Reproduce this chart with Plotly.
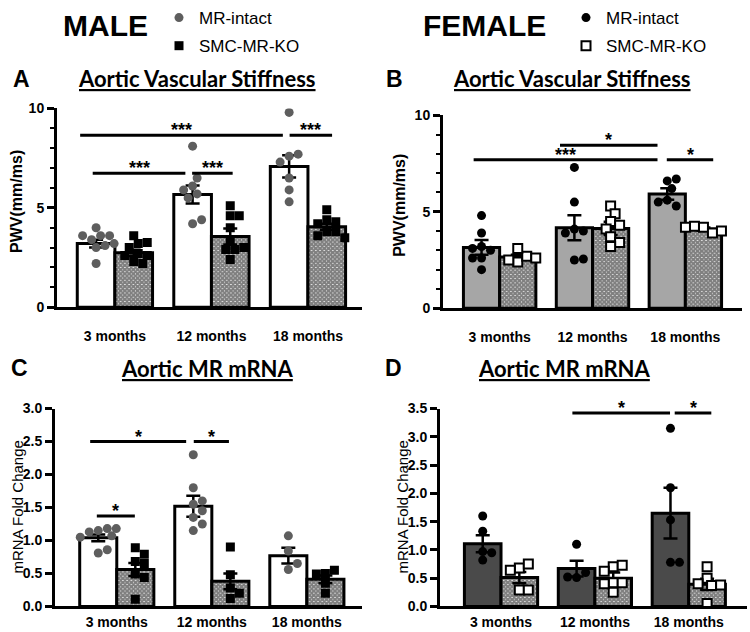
import numpy as np
import plotly.graph_objects as go

W, H = 750, 632
FONT = "Liberation Sans, Arial, sans-serif"
TITLE_FONT = "Lato, Calibri, sans-serif"

groups = ["3 months", "12 months", "18 months"]

# A - male aortic PWV (mm/ms)
a_intact_mean = [3.2, 5.67, 7.08]
a_intact_sem = [0.2, 0.45, 0.56]
a_ko_mean = [2.74, 3.56, 4.05]
a_ko_sem = [0.15, 0.4, 0.15]
a_intact_pts = [[4.0, 3.6, 3.4, 3.6, 3.6, 3.0, 3.1, 3.2, 2.2],
                [8.1, 6.1, 6.5, 5.7, 5.5, 4.2, 4.4, 5.9],
                [9.8, 7.6, 7.7, 7.3, 6.5, 5.9, 5.3]]
a_ko_pts = [[3.6, 3.2, 3.0, 3.25, 2.7, 2.6, 2.3, 2.2, 2.6],
            [5.1, 4.6, 4.6, 4.0, 3.3, 2.9, 2.9, 2.4, 3.0],
            [4.9, 4.4, 4.3, 4.2, 3.8, 3.8, 3.6, 3.5]]

# B - female aortic PWV (mm/ms)
b_intact_mean = [3.15, 4.17, 5.92]
b_intact_sem = [0.38, 0.65, 0.3]
b_ko_mean = [2.65, 4.13, 4.1]
b_ko_sem = [0.12, 0.35, 0.08]
b_intact_pts = [[4.8, 3.9, 3.2, 3.0, 3.1, 2.6, 2.6, 2.0],
                [7.3, 5.5, 4.1, 4.0, 3.9, 2.5, 2.55],
                [6.6, 6.7, 6.2, 5.6, 5.3, 5.5]]
b_ko_pts = [[2.4, 2.7, 3.1, 2.5, 2.6],
            [5.3, 4.9, 4.5, 4.3, 4.1, 3.7, 3.4, 3.2],
            [4.2, 3.9, 4.25, 4.0, 4.2]]

# C - male aortic MR mRNA (fold change)
c_intact_mean = [1.04, 1.52, 0.77]
c_intact_sem = [0.05, 0.16, 0.12]
c_ko_mean = [0.56, 0.38, 0.41]
c_ko_sem = [0.1, 0.12, 0.06]
c_intact_pts = [[1.15, 1.18, 1.13, 1.18, 1.07, 1.05, 0.81, 0.86],
                [2.3, 1.8, 1.55, 1.35, 1.45, 1.6, 1.25, 1.15],
                [1.07, 0.84, 0.56, 0.65]]
c_ko_pts = [[0.89, 0.79, 0.68, 0.65, 0.49, 0.44, 0.11],
            [0.9, 0.48, 0.28, 0.2, 0.12],
            [0.5, 0.55, 0.49, 0.2, 0.35]]

# D - female aortic MR mRNA (fold change)
d_intact_mean = [1.11, 0.67, 1.65]
d_intact_sem = [0.15, 0.14, 0.45]
d_ko_mean = [0.51, 0.5, 0.39]
d_ko_sem = [0.1, 0.1, 0.1]
d_intact_pts = [[1.6, 1.33, 0.97, 0.95, 0.82],
                [1.1, 0.51, 0.6, 0.52],
                [3.15, 2.1, 1.53, 0.78, 0.78]]
d_ko_pts = [[0.68, 0.75, 0.64, 0.29, 0.29],
            [0.7, 0.73, 0.62, 0.42, 0.42, 0.25, 0.4],
            [0.7, 0.5, 0.37, 0.4, 0.38, 0.05]]

# significance bars: (x0, x1, y, label) in data units
a_sig = [(-0.36, 1.74, 8.65, "***"), (1.81, 2.25, 8.65, "***"),
         (-0.23, 0.73, 6.74, "***"), (0.80, 1.22, 6.74, "***")]
b_sig = [(0.65, 1.70, 8.45, "*"), (-0.28, 1.70, 7.69, "***"), (1.80, 2.30, 7.69, "*")]
c_sig = [(-0.28, 0.73, 2.50, "*"), (0.81, 1.18, 2.50, "*"), (-0.21, 0.19, 1.37, "*")]
d_sig = [(0.76, 1.80, 3.42, "*"), (1.85, 2.24, 3.42, "*")]

BARGAP = 0.22
DOT = 9


def swarm(vals, ux, uy, d=DOT):
    # simple beeswarm: shift a point sideways until it no longer overlaps
    placed, out = [], []
    cands = [0] + [s * i for i in range(1, 20) for s in (1, -1)]
    for v in vals:
        y = v * uy
        for c in cands:
            x = c * d * 0.5
            if all((x - px_) ** 2 + (y - py_) ** 2 >= (d * 0.95) ** 2 for px_, py_ in placed):
                break
        placed.append((x, y))
        out.append(x / ux)
    return out


def paper_text(txt, x, y, font, **kw):
    return dict(xref="paper", yref="paper", x=x / W, y=1 - y / H, text=txt,
                xanchor="center", yanchor="middle", showarrow=False, font=font, **kw)


panels = [
    dict(key="A", xpx=(57, 362), ypx=(100, 302), xr=(-0.6, 2.56), yr=(0, 10),
         im=a_intact_mean, ise=a_intact_sem, km=a_ko_mean, kse=a_ko_sem,
         ip=a_intact_pts, kp=a_ko_pts, sig=a_sig, bar="white",
         dot=dict(symbol="circle", color="#5e5e5e", size=DOT),
         sq=dict(symbol="square", color="black", size=DOT),
         legend="legend", ytitle="PWV(mm/ms)"),
    dict(key="B", xpx=(443, 742), ypx=(107, 303), xr=(-0.61, 2.61), yr=(0, 10),
         im=b_intact_mean, ise=b_intact_sem, km=b_ko_mean, kse=b_ko_sem,
         ip=b_intact_pts, kp=b_ko_pts, sig=b_sig, bar="#a6a6a6",
         dot=dict(symbol="circle", color="black", size=DOT),
         sq=dict(symbol="square", color="white", size=DOT, line=dict(color="black", width=2)),
         legend="legend2", ytitle="PWV(mm/ms)"),
    dict(key="C", xpx=(55, 362), ypx=(405, 606), xr=(-0.65, 2.58), yr=(0, 3.0),
         im=c_intact_mean, ise=c_intact_sem, km=c_ko_mean, kse=c_ko_sem,
         ip=c_intact_pts, kp=c_ko_pts, sig=c_sig, bar="white",
         dot=dict(symbol="circle", color="#5e5e5e", size=DOT),
         sq=dict(symbol="square", color="black", size=DOT),
         legend=None, ytitle="mRNA Fold Change"),
    dict(key="D", xpx=(440, 747), ypx=(405, 606), xr=(-0.65, 2.62), yr=(0, 3.5),
         im=d_intact_mean, ise=d_intact_sem, km=d_ko_mean, kse=d_ko_sem,
         ip=d_intact_pts, kp=d_ko_pts, sig=d_sig, bar="#4a4a4a",
         dot=dict(symbol="circle", color="black", size=DOT),
         sq=dict(symbol="square", color="white", size=DOT, line=dict(color="black", width=2)),
         legend=None, ytitle="mRNA Fold Change"),
]

fig = go.Figure()
layout = {}
shapes, annotations = [], []
half = (1 - BARGAP) / 4
xpos = np.arange(len(groups))

for i, p in enumerate(panels):
    n = "" if i == 0 else str(i + 1)
    xa, ya = "x" + n, "y" + n
    ux = (p["xpx"][1] - p["xpx"][0]) / (p["xr"][1] - p["xr"][0])
    uy = (p["ypx"][1] - p["ypx"][0]) / (p["yr"][1] - p["yr"][0])
    err = dict(type="data", color="black", thickness=2.5, width=7)

    fig.add_trace(go.Bar(
        x=xpos, y=p["im"], xaxis=xa, yaxis=ya, name="MR-intact", showlegend=False,
        marker=dict(color=p["bar"], line=dict(color="black", width=3)),
        error_y=dict(array=p["ise"], **err)))
    fig.add_trace(go.Bar(
        x=xpos, y=p["km"], xaxis=xa, yaxis=ya, name="SMC-MR-KO", showlegend=False,
        marker=dict(color="white", line=dict(color="black", width=3),
                    pattern=dict(shape="x", fgcolor="black", bgcolor="white", size=3, solidity=0.9)),
        error_y=dict(array=p["kse"], **err)))

    for pts, sign, style, name in [(p["ip"], -1, p["dot"], "MR-intact"), (p["kp"], 1, p["sq"], "SMC-MR-KO")]:
        xs, ys = [], []
        for g, vals in enumerate(pts):
            offs = swarm(vals, ux, uy)
            xs += [g + sign * half + o for o in offs]
            ys += vals
        kw = dict(showlegend=False)
        if p["legend"]:
            kw = dict(showlegend=True, legend=p["legend"], legendgroup=p["key"] + name)
        fig.add_trace(go.Scatter(x=xs, y=ys, xaxis=xa, yaxis=ya, mode="markers",
                                 name=name, marker=style, **kw))

    top = i < 2
    layout["xaxis" + n] = dict(
        domain=[p["xpx"][0] / W, p["xpx"][1] / W], range=list(p["xr"]), anchor=ya,
        automargin=False,
        showline=True, linecolor="black", linewidth=3, showgrid=False, zeroline=False,
        tickvals=list(xpos), ticktext=groups, ticks="",
        ticklabelstandoff=14 if top else 1,
        tickfont=dict(family=FONT, size=14, color="black", weight="bold"))
    if p["yr"][1] == 10:
        ytick = dict(tickvals=[0, 5, 10], tickformat="d",
                     minor=dict(ticks="outside", ticklen=4, tickwidth=2, tickcolor="black", dtick=1))
    else:
        ytick = dict(tickvals=list(np.arange(0, p["yr"][1] + 0.01, 0.5)), tickformat=".1f")
    layout["yaxis" + n] = dict(
        domain=[1 - p["ypx"][1] / H, 1 - p["ypx"][0] / H], range=list(p["yr"]), anchor=xa,
        automargin=False,
        showline=True, linecolor="black", linewidth=3, showgrid=False, zeroline=False,
        ticks="outside", ticklen=7, tickwidth=2.5, tickcolor="black",
        tickfont=dict(family=FONT, size=14, color="black", weight="bold"), **ytick)

    for x0, x1, y, lab in p["sig"]:
        shapes.append(dict(type="line", xref=xa, yref=ya, x0=x0, x1=x1, y0=y, y1=y,
                           line=dict(color="black", width=3)))
        annotations.append(dict(xref=xa, yref=ya, x=(x0 + x1) / 2, y=y, text=lab,
                                xanchor="center", showarrow=False, yanchor="bottom", yshift=-7,
                                font=dict(family=FONT, size=18, color="black", weight="bold")))

    # y title
    ytx = {"A": 17, "B": 400, "C": 18, "D": 403}[p["key"]]
    yty = (p["ypx"][0] + p["ypx"][1]) / 2 - (6 if top else 0)
    annotations.append(paper_text(p["ytitle"], ytx, yty, textangle=-90,
                                  font=dict(family=FONT, size=16 if top else 15, color="black",
                                            weight="bold" if top else "normal")))

# headings, panel letters and panel titles
for txt, x, y, size in [("MALE", 105, 16, 30), ("FEMALE", 484, 16, 30),
                        ("A", 21, 70, 23), ("B", 394, 70, 23), ("C", 19, 364, 23), ("D", 393, 364, 23)]:
    annotations.append(paper_text(txt, x, y, font=dict(family=FONT, size=size, color="black", weight="bold")))

for txt, x, y in [("Aortic Vascular Stiffness", 197, 70), ("Aortic Vascular Stiffness", 572, 70),
                  ("Aortic MR mRNA", 207, 364), ("Aortic MR mRNA", 564, 364)]:
    annotations.append(paper_text(txt, x, y, font=dict(family=TITLE_FONT, size=22, color="black",
                                                         weight="bold", lineposition="under")))

leg = dict(xanchor="left", yanchor="top", bgcolor="rgba(0,0,0,0)", tracegroupgap=3,
           font=dict(family=FONT, size=17, color="black"))
fig.update_layout(
    width=W, height=H, margin=dict(l=0, r=0, t=0, b=0),
    plot_bgcolor="white", paper_bgcolor="white",
    barmode="group", bargap=BARGAP,
    shapes=shapes, annotations=annotations,
    legend=dict(x=159 / W, y=1.016, **leg),
    legend2=dict(x=566 / W, y=1.016, **leg),
    **layout)

# drop the browser's default body margin so the figure sits at the page corner
fig.write_html("out.html", config={"displayModeBar": False},
               post_script="document.body.style.margin='0px';")
